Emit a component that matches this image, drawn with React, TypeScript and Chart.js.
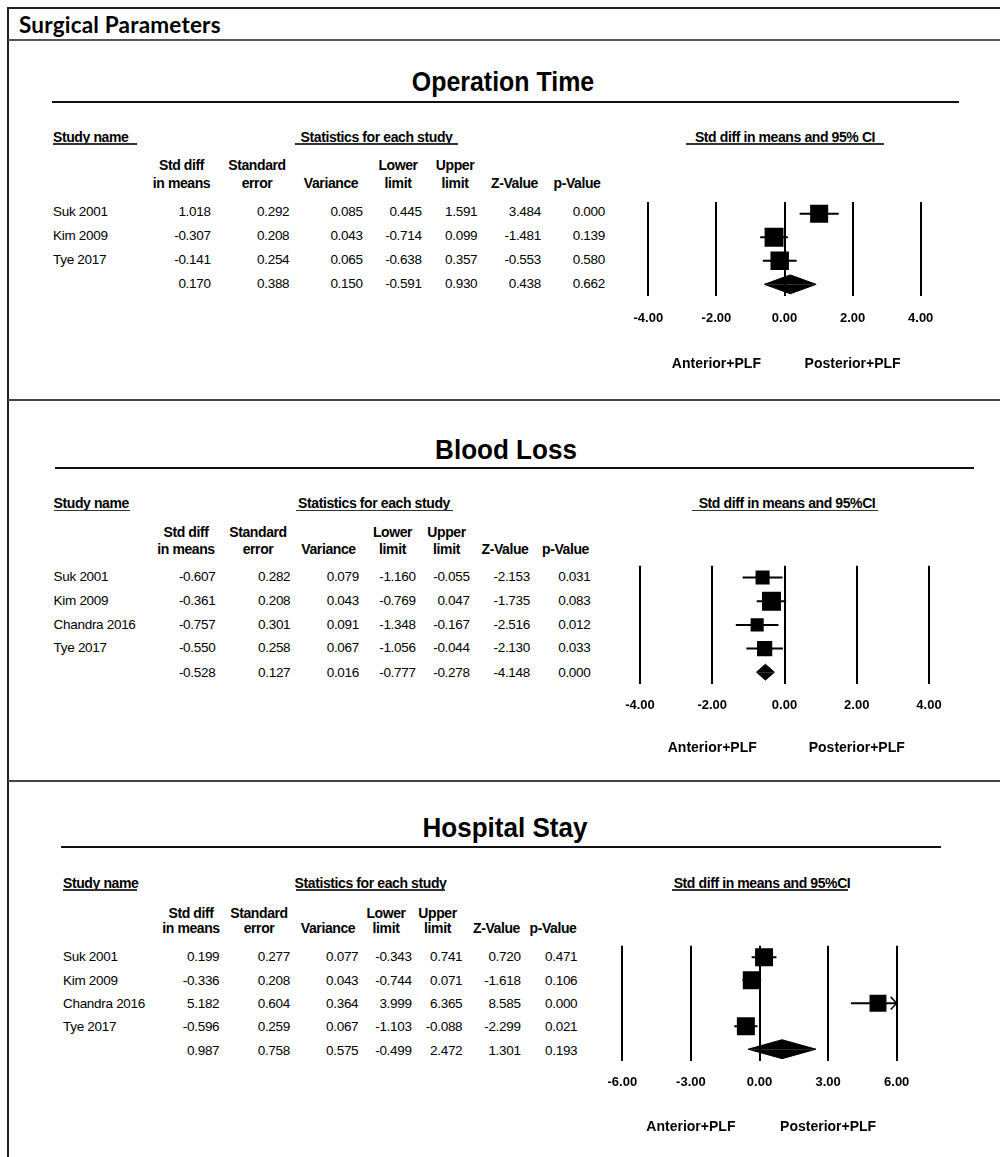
import React, { useEffect, useRef } from "react";
import { Chart, registerables } from "chart.js";
Chart.register(...registerables);

// ---------------- Data ----------------
const COLUMN_HEADERS = [
  ["Std diff", "in means"],
  ["Standard", "error"],
  ["", "Variance"],
  ["Lower", "limit"],
  ["Upper", "limit"],
  ["", "Z-Value"],
  ["", "p-Value"],
];
const SIDE_LABELS = ["Anterior+PLF", "Posterior+PLF"];

// Operation Time
const opStudies = ["Suk 2001", "Kim 2009", "Tye 2017", ""];
const opStdDiff = [1.018, -0.307, -0.141, 0.17];
const opStdErr = [0.292, 0.208, 0.254, 0.388];
const opVariance = [0.085, 0.043, 0.065, 0.15];
const opLower = [0.445, -0.714, -0.638, -0.591];
const opUpper = [1.591, 0.099, 0.357, 0.93];
const opZ = [3.484, -1.481, -0.553, 0.438];
const opP = [0.0, 0.139, 0.58, 0.662];
const opWeight = [31.8, 34.9, 33.2];
const opTicks = [-4, -2, 0, 2, 4];

// Blood Loss
const blStudies = ["Suk 2001", "Kim 2009", "Chandra 2016", "Tye 2017", ""];
const blStdDiff = [-0.607, -0.361, -0.757, -0.55, -0.528];
const blStdErr = [0.282, 0.208, 0.301, 0.258, 0.127];
const blVariance = [0.079, 0.043, 0.091, 0.067, 0.016];
const blLower = [-1.16, -0.769, -1.348, -1.056, -0.777];
const blUpper = [-0.055, 0.047, -0.167, -0.044, -0.278];
const blZ = [-2.153, -1.735, -2.516, -2.13, -4.148];
const blP = [0.031, 0.083, 0.012, 0.033, 0.0];
const blWeight = [20.5, 37.6, 17.8, 24.1];
const blTicks = [-4, -2, 0, 2, 4];

// Hospital Stay
const hsStudies = ["Suk 2001", "Kim 2009", "Chandra 2016", "Tye 2017", ""];
const hsStdDiff = [0.199, -0.336, 5.182, -0.596, 0.987];
const hsStdErr = [0.277, 0.208, 0.604, 0.259, 0.758];
const hsVariance = [0.077, 0.043, 0.364, 0.067, 0.575];
const hsLower = [-0.343, -0.744, 3.999, -1.103, -0.499];
const hsUpper = [0.741, 0.071, 6.365, -0.088, 2.472];
const hsZ = [0.72, -1.618, 8.585, -2.299, 1.301];
const hsP = [0.471, 0.106, 0.0, 0.021, 0.193];
const hsWeight = [25.6, 26.0, 22.8, 25.7];
const hsTicks = [-6, -3, 0, 3, 6];

// ---------------- Layout / style ----------------
const PAGE_W = 1000;
const PAGE_H = 1157;
const FONT = '"Liberation Sans", Arial, Helvetica, sans-serif';

const PANELS = [
  {
    title: "Operation Time",
    forestHeader: "Std diff in means and 95% CI",
    studies: opStudies,
    cols: [opStdDiff, opStdErr, opVariance, opLower, opUpper, opZ, opP],
    est: opStdDiff, lower: opLower, upper: opUpper, weight: opWeight, ticks: opTicks, sideAt: [-2, 2],
    L: {
      titleX: 503, titleY: 82, titleScale: 0.89,
      ruleX0: 52, ruleX1: 959, ruleY: 102,
      headY: 137, ulY: 144,
      nameX: 53, nameUl: [53, 137],
      statsX: 376.5, statsUl: [295, 458],
      forestHeadX: 785, forestUl: [686, 884],
      colHeadY: [165, 183],
      headCx: [181.5, 257, 331, 398, 455, 514.5, 577],
      valRx: [210.7, 289.3, 362.7, 421.7, 477.3, 541, 605],
      rowY: [211.7, 235.7, 260, 284],
      chartTop: 199.5, chartH: 96.6, x0: 648.3, x1: 920.7, tickPad: 15, sideOff: 68, boxK: 3.2, diamondHalf: 9.7,
    },
  },
  {
    title: "Blood Loss",
    forestHeader: "Std diff in means and 95%CI",
    studies: blStudies,
    cols: [blStdDiff, blStdErr, blVariance, blLower, blUpper, blZ, blP],
    est: blStdDiff, lower: blLower, upper: blUpper, weight: blWeight, ticks: blTicks, sideAt: [-2, 2],
    L: {
      titleX: 506, titleY: 450, titleScale: 0.93,
      ruleX0: 54.5, ruleX1: 974, ruleY: 468,
      headY: 503, ulY: 510.5,
      nameX: 53.6, nameUl: [53.6, 130],
      statsX: 374, statsUl: [296, 452.6],
      forestHeadX: 787, forestUl: [691.7, 878],
      colHeadY: [531.7, 549],
      headCx: [186, 258, 328.5, 392.5, 446.5, 505, 565.5],
      valRx: [215.4, 290.3, 359, 415.7, 469.7, 530, 590.5],
      rowY: [577, 600.7, 624.7, 648, 672.7],
      chartTop: 565, chartH: 119, x0: 640, x1: 929, tickPad: 14, sideOff: 64, boxK: 3.1, diamondHalf: 8,
    },
  },
  {
    title: "Hospital Stay",
    forestHeader: "Std diff in means and 95%CI",
    studies: hsStudies,
    cols: [hsStdDiff, hsStdErr, hsVariance, hsLower, hsUpper, hsZ, hsP],
    est: hsStdDiff, lower: hsLower, upper: hsUpper, weight: hsWeight, ticks: hsTicks, sideAt: [-3, 3],
    L: {
      titleX: 505, titleY: 828, titleScale: 0.93,
      ruleX0: 61, ruleX1: 941, ruleY: 847,
      headY: 883, ulY: 890,
      nameX: 63, nameUl: [63, 137],
      statsX: 370.5, statsUl: [296, 445],
      forestHeadX: 762, forestUl: [671.7, 848],
      colHeadY: [912.7, 928],
      headCx: [191, 259, 328, 386, 437.5, 496.5, 553],
      valRx: [219.3, 290, 358.3, 411.7, 462.3, 520.7, 577.3],
      rowY: [956.7, 980.7, 1004, 1027, 1050.7],
      chartTop: 943, chartH: 117.7, x0: 622.3, x1: 896.7, tickPad: 14, sideOff: 66, boxK: 3.55, diamondHalf: 9.7,
    },
  },
];

// ---------------- Helpers ----------------
type Align = "left" | "center" | "right";
function Txt(props: { x: number; y: number; align: Align; text: string; style?: React.CSSProperties; scaleX?: number }) {
  const { x, y, align, text, style, scaleX } = props;
  const s: React.CSSProperties = { position: "absolute", top: y, whiteSpace: "nowrap", lineHeight: 1, ...style };
  let t = "translateY(-50%)";
  if (align === "left") s.left = x;
  else if (align === "right") s.right = PAGE_W - x;
  else {
    s.left = x;
    t = "translate(-50%, -50%)";
  }
  if (scaleX) t += ` scaleX(${scaleX})`;
  s.transform = t;
  return <div style={s}>{text}</div>;
}

function HLine(props: { x0: number; x1: number; y: number; h: number; color: string }) {
  const { x0, x1, y, h, color } = props;
  return <div style={{ position: "absolute", left: x0, top: y - h / 2, width: x1 - x0, height: h, background: color }} />;
}

const HEAD_STYLE: React.CSSProperties = { fontWeight: 700, fontSize: 14, letterSpacing: -0.4 };
const VAL_STYLE: React.CSSProperties = { fontSize: 13.5, letterSpacing: -0.3 };

function Forest({ p }: { p: any }) {
  const ref = useRef<HTMLCanvasElement>(null);
  const L = p.L;
  const CANVAS_LEFT = 560;
  const CANVAS_W = PAGE_W - CANVAS_LEFT;
  const top = Math.floor(L.chartTop) - 10;
  const padTop = L.chartTop - top;
  const height = Math.round(padTop + L.chartH + 86);
  const labelH = 13 * 1.2;
  const padBottom = height - padTop - L.chartH - 2 * L.tickPad - labelH;

  useEffect(() => {
    const n = p.est.length;
    const k = n - 1;
    const xMin = p.ticks[0];
    const xMax = p.ticks[p.ticks.length - 1];
    const rowPx = L.chartH / n;
    const datasets: any[] = [];
    // study boxes
    datasets.push({
      type: "line",
      data: p.est.slice(0, k).map((x: number, i: number) => ({ x, y: i })),
      showLine: false,
      pointStyle: "rect",
      pointRadius: p.weight.map((w: number) => (L.boxK * Math.sqrt(w)) / Math.SQRT2),
      pointHoverRadius: p.weight.map((w: number) => (L.boxK * Math.sqrt(w)) / Math.SQRT2),
      pointBackgroundColor: "#000",
      pointBorderColor: "#000",
      pointBorderWidth: 0,
      order: 0,
    });
    // confidence intervals
    for (let i = 0; i < k; i++) {
      datasets.push({
        type: "line",
        data: [{ x: p.lower[i], y: i }, { x: p.upper[i], y: i }],
        borderColor: "#000",
        borderWidth: 2,
        pointRadius: 0,
        fill: false,
        order: 1,
      });
      if (p.upper[i] > xMax) {
        const ax = 6 / ((L.x1 - L.x0) / (xMax - xMin));
        const ay = 6.5 / rowPx;
        datasets.push({
          type: "line",
          data: [{ x: xMax - ax, y: i - ay }, { x: xMax, y: i }, { x: xMax - ax, y: i + ay }],
          borderColor: "#000",
          borderWidth: 1.5,
          pointRadius: 0,
          fill: false,
          order: 1,
        });
      }
    }
    // summary diamond
    const h = L.diamondHalf / rowPx;
    [-h, h].forEach((dy) => {
      datasets.push({
        type: "line",
        data: [{ x: p.lower[k], y: k }, { x: p.est[k], y: k + dy }, { x: p.upper[k], y: k }],
        borderColor: "#000",
        backgroundColor: "#000",
        borderWidth: 1,
        pointRadius: 0,
        tension: 0,
        fill: { value: k },
        order: 0,
      });
    });

    const sidePlugin = {
      id: "sideLabels",
      afterDraw(chart: any) {
        const ctx = chart.ctx;
        const xs = chart.scales.x;
        ctx.save();
        ctx.fillStyle = "#000";
        ctx.font = `bold 14px ${FONT}`;
        ctx.textAlign = "center";
        ctx.textBaseline = "middle";
        SIDE_LABELS.forEach((lab, i) => {
          ctx.fillText(lab, xs.getPixelForValue(p.sideAt[i]), chart.chartArea.bottom + L.sideOff);
        });
        ctx.restore();
      },
    };

    const chart = new Chart(ref.current as HTMLCanvasElement, {
      type: "line",
      data: { datasets },
      options: {
        animation: false,
        responsive: false,
        devicePixelRatio: 1,
        events: [],
        layout: {
          padding: { left: L.x0 - CANVAS_LEFT, right: PAGE_W - L.x1, top: padTop, bottom: padBottom },
        },
        plugins: { legend: { display: false }, tooltip: { enabled: false } },
        scales: {
          x: {
            type: "linear",
            min: xMin,
            max: xMax,
            afterBuildTicks: (scale: any) => {
              scale.ticks = p.ticks.map((v: number) => ({ value: v }));
            },
            grid: { color: "#000", lineWidth: 2, drawTicks: false },
            border: { display: false },
            ticks: {
              color: "#000",
              padding: L.tickPad,
              maxRotation: 0,
              autoSkip: false,
              font: { family: FONT, size: 13, weight: "bold" },
              callback: (v: any) => Number(v).toFixed(2),
            },
          },
          y: { type: "linear", min: -0.5, max: n - 0.5, reverse: true, display: false },
        },
      } as any,
      plugins: [sidePlugin],
    });
    return () => chart.destroy();
  }, []);

  return (
    <canvas
      ref={ref}
      width={CANVAS_W}
      height={height}
      style={{ position: "absolute", left: CANVAS_LEFT, top, width: CANVAS_W, height }}
    />
  );
}

function Panel({ p }: { p: any }) {
  const L = p.L;
  const items: React.ReactNode[] = [];
  items.push(
    <Txt key="title" x={L.titleX} y={L.titleY} align="center" text={p.title} scaleX={L.titleScale}
      style={{ fontWeight: 700, fontSize: 28 }} />
  );
  items.push(<HLine key="rule" x0={L.ruleX0} x1={L.ruleX1} y={L.ruleY} h={2.5} color="#111" />);
  items.push(<Txt key="sn" x={L.nameX} y={L.headY} align="left" text="Study name" style={HEAD_STYLE} />);
  items.push(<HLine key="snu" x0={L.nameUl[0]} x1={L.nameUl[1]} y={L.ulY} h={1.5} color="#333" />);
  items.push(<Txt key="st" x={L.statsX} y={L.headY} align="center" text="Statistics for each study" style={HEAD_STYLE} />);
  items.push(<HLine key="stu" x0={L.statsUl[0]} x1={L.statsUl[1]} y={L.ulY} h={1.5} color="#333" />);
  items.push(<Txt key="fh" x={L.forestHeadX} y={L.headY} align="center" text={p.forestHeader} style={HEAD_STYLE} />);
  items.push(<HLine key="fhu" x0={L.forestUl[0]} x1={L.forestUl[1]} y={L.ulY} h={1.5} color="#333" />);
  COLUMN_HEADERS.forEach((lines, j) => {
    lines.forEach((t, li) => {
      if (t) items.push(<Txt key={`h${j}_${li}`} x={L.headCx[j]} y={L.colHeadY[li]} align="center" text={t} style={HEAD_STYLE} />);
    });
  });
  p.studies.forEach((name: string, i: number) => {
    if (name) items.push(<Txt key={`n${i}`} x={L.nameX} y={L.rowY[i]} align="left" text={name} style={VAL_STYLE} />);
    p.cols.forEach((col: number[], j: number) => {
      items.push(<Txt key={`v${i}_${j}`} x={L.valRx[j]} y={L.rowY[i]} align="right" text={col[i].toFixed(3)} style={VAL_STYLE} />);
    });
  });
  return (
    <>
      {items}
      <Forest p={p} />
    </>
  );
}

export default function App() {
  useEffect(() => {
    document.body.style.overflow = "hidden";
  }, []);
  return (
    <div
      style={{
        position: "absolute", left: 0, top: 0, width: PAGE_W, height: PAGE_H, overflow: "hidden",
        background: "#fff", color: "#000", fontFamily: FONT,
      }}
    >
      <HLine x0={7} x1={PAGE_W} y={8} h={2} color="#222" />
      <div style={{ position: "absolute", left: 7, top: 7, width: 2, height: PAGE_H - 7, background: "#222" }} />
      <HLine x0={8} x1={PAGE_W} y={40} h={1.5} color="#555" />
      <HLine x0={8} x1={PAGE_W} y={400} h={1.5} color="#444" />
      <HLine x0={8} x1={PAGE_W} y={781} h={1.5} color="#444" />
      <Txt x={19} y={25} align="left" text="Surgical Parameters"
        style={{ fontFamily: 'Lato, "Open Sans", sans-serif', fontWeight: 700, fontSize: 22.5, letterSpacing: 0.2 }} />
      {PANELS.map((p, i) => (
        <Panel key={i} p={p} />
      ))}
    </div>
  );
}
